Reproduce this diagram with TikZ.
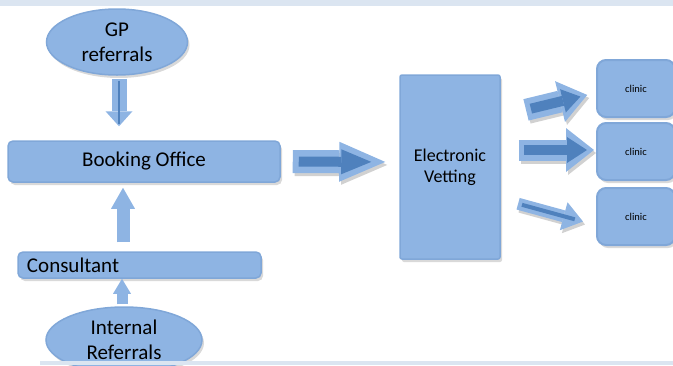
\documentclass[tikz,border=0pt]{standalone}
\usepackage{fontspec}
\setmainfont{Carlito}
\usetikzlibrary{arrows.meta,shadows,shapes.geometric}

\definecolor{boxfill}{HTML}{8EB4E3}
\definecolor{boxline}{HTML}{80A7D8}
\definecolor{arrowdark}{HTML}{4F81BD}
\definecolor{band}{HTML}{DBE5F1}

\tikzset{
	shadowed/.style={drop shadow={opacity=.3,shadow xshift=2pt,shadow yshift=-3pt}},
	office/.style={rectangle,rounded corners=5pt,fill=boxfill,draw=boxline,line width=1.5pt,shadowed,font=\fontsize{21}{25}\selectfont},
	referral/.style={ellipse,fill=boxfill,draw=boxline,line width=1.5pt,shadowed,inner sep=0pt,align=center,font=\fontsize{21}{25}\selectfont},
	clinicbox/.style={rectangle,rounded corners=9pt,fill=boxfill,draw=boxline,line width=2pt,shadowed,minimum width=78pt,minimum height=57pt,font=\fontsize{10.5}{12}\selectfont},
	outer/.style={boxfill,line cap=butt},
	inner/.style={arrowdark,line cap=butt},
	arrowshade/.style={black,opacity=.18,line cap=butt,transform canvas={shift={(2pt,-3pt)}}}
}

\begin{document}
\begin{tikzpicture}[x=1pt,y=-1pt]
	\useasboundingbox (0,0) rectangle (673,365);
	\clip (0,0) rectangle (673,365);
	\fill[band] (0,0) rectangle (673,6);

	% boxes
	\node[referral,minimum width=141pt,minimum height=66pt] (gp) at (117,42) {GP\\referrals};
	\node[office,minimum width=272pt,minimum height=41pt] (book) at (144,161.5) {Booking Office};
	\node[office,minimum width=243pt,minimum height=26pt,text width=225pt,inner xsep=9pt,inner ysep=1pt,align=left] (cons) at (139.5,265) {Consultant};
	\node[referral,minimum width=156pt,minimum height=66pt] (int) at (124,340) {Internal\\Referrals};
	\node[office,rounded corners=2pt,minimum width=100pt,minimum height=184pt,align=center,font=\fontsize{18}{21}\selectfont] (vet) at (450,167) {Electronic\\Vetting};
	\node[clinicbox] (clin1) at (636,88.5) {clinic};
	\node[clinicbox] (clin2) at (636,151.5) {clinic};
	\node[clinicbox] (clin3) at (636,216.5) {clinic};

	% referrals into the office
	\draw[outer,line width=15pt,-{Triangle[width=27pt,length=15pt,line width=0pt]},shorten <=3pt,shorten >=14pt] ([xshift=2pt]gp.south) -- ([xshift=-25pt]book.north);
	\draw[inner,line width=1.5pt,shorten <=5pt,shorten >=16pt] ([xshift=2pt]gp.south) -- ([xshift=-25pt]book.north);
	\draw[outer,line width=13pt,-{Triangle[width=24pt,length=21pt,line width=0pt]},shorten <=9pt,shorten >=5pt] ([xshift=-16.5pt]cons.north) -- ([xshift=-21pt]book.south);
	\draw[outer,line width=11pt,-{Triangle[width=18pt,length=15pt,line width=0pt]},shorten <=2pt] ([xshift=-2pt]int.north) -- ([xshift=-17.5pt]cons.south);

	% office to vetting
	\draw[arrowshade,line width=23pt,-{Triangle[width=40pt,length=46pt,line width=0pt]},shorten <=12pt,shorten >=14pt] (book.east) -- ([yshift=5pt]vet.west);
	\draw[outer,line width=23pt,-{Triangle[width=40pt,length=46pt,line width=0pt]},shorten <=12pt,shorten >=14pt] (book.east) -- ([yshift=5pt]vet.west);
	\draw[inner,line width=10pt,-{Triangle[width=25pt,length=30pt,line width=0pt]},shorten <=18pt,shorten >=28pt] (book.east) -- ([yshift=5pt]vet.west);

	% vetting to clinics
	\draw[arrowshade,line width=22pt,-{Triangle[width=42pt,length=28pt,line width=0pt]},shorten <=26pt,shorten >=9pt] ([yshift=51pt]vet.east) -- ([yshift=-4.3pt]clin1.west);
	\draw[outer,line width=22pt,-{Triangle[width=42pt,length=28pt,line width=0pt]},shorten <=26pt,shorten >=9pt] ([yshift=51pt]vet.east) -- ([yshift=-4.3pt]clin1.west);
	\draw[inner,line width=10pt,-{Triangle[width=24pt,length=18pt,line width=0pt]},shorten <=31pt,shorten >=16pt] ([yshift=51pt]vet.east) -- ([yshift=-4.3pt]clin1.west);

	\draw[arrowshade,line width=21pt,-{Triangle[width=44pt,length=28pt,line width=0pt]},shorten <=18pt,shorten >=2pt] ([yshift=17pt]vet.east) -- ([yshift=1.5pt]clin2.west);
	\draw[outer,line width=21pt,-{Triangle[width=44pt,length=28pt,line width=0pt]},shorten <=18pt,shorten >=2pt] ([yshift=17pt]vet.east) -- ([yshift=1.5pt]clin2.west);
	\draw[inner,line width=10pt,-{Triangle[width=26pt,length=20pt,line width=0pt]},shorten <=23pt,shorten >=9pt] ([yshift=17pt]vet.east) -- ([yshift=1.5pt]clin2.west);

	\draw[arrowshade,line width=12pt,-{Triangle[width=29pt,length=20pt,line width=0pt]},shorten <=18pt,shorten >=13.5pt] ([yshift=-32pt]vet.east) -- ([yshift=-8.6pt]clin3.west);
	\draw[outer,line width=12pt,-{Triangle[width=29pt,length=20pt,line width=0pt]},shorten <=18pt,shorten >=13.5pt] ([yshift=-32pt]vet.east) -- ([yshift=-8.6pt]clin3.west);
	\draw[inner,line width=4pt,shorten <=22pt,shorten >=22pt] ([yshift=-32pt]vet.east) -- ([yshift=-8.6pt]clin3.west);

	\fill[band] (40,361) rectangle (673,365);
\end{tikzpicture}
\end{document}
